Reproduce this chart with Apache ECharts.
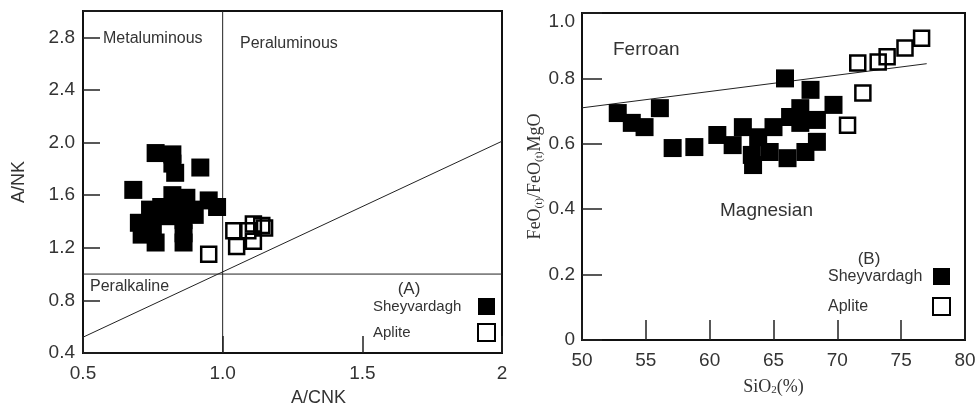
<!DOCTYPE html>
<html>
<head>
<meta charset="utf-8">
<script src="https://cdn.jsdelivr.net/npm/echarts@6/dist/echarts.min.js"></script>
<style>
  html, body { margin: 0; padding: 0; background: #fff; }
  #chart { width: 979px; height: 412px; }
</style>
</head>
<body>
<div id="chart"></div>
<script>
// (A) A/CNK vs A/NK
var sheyA = [
  [0.68, 1.64], [0.76, 1.92], [0.82, 1.91], [0.82, 1.84], [0.83, 1.77], [0.92, 1.81],
  [0.98, 1.51], [0.95, 1.56], [0.87, 1.58], [0.82, 1.60], [0.78, 1.51], [0.74, 1.49],
  [0.70, 1.39], [0.71, 1.30], [0.76, 1.24], [0.72, 1.35], [0.80, 1.44], [0.86, 1.41],
  [0.86, 1.31], [0.86, 1.24], [0.89, 1.49], [0.84, 1.51], [0.75, 1.36], [0.90, 1.45]
];
var apliteA = [
  [0.95, 1.15], [1.04, 1.33], [1.05, 1.21], [1.11, 1.25],
  [1.09, 1.33], [1.11, 1.38], [1.14, 1.37], [1.15, 1.35]
];
var boundVertA = [[1.0, 0.4], [1.0, 3.0]];
var boundHorizA = [[0.5, 1.0], [2.0, 1.0]];
var boundDiagA = [[0.5, 0.52], [2.0, 2.01]];

// (B) SiO2 vs FeO(t)/(FeO(t)+MgO)
var sheyB = [
  [52.8, 0.694], [53.9, 0.664], [54.9, 0.651], [56.1, 0.709], [57.1, 0.587], [58.8, 0.590],
  [60.6, 0.627], [61.8, 0.596], [62.6, 0.651], [63.3, 0.566], [63.4, 0.535], [63.8, 0.620],
  [64.7, 0.575], [65.0, 0.651], [65.9, 0.800], [66.1, 0.556], [66.3, 0.682], [67.1, 0.709],
  [67.1, 0.664], [67.5, 0.575], [67.9, 0.765], [68.4, 0.673], [68.4, 0.606], [69.7, 0.719]
];
var apliteB = [
  [70.8, 0.657], [72.0, 0.755], [71.6, 0.847], [73.2, 0.850],
  [73.9, 0.866], [75.3, 0.893], [76.6, 0.923]
];
var boundB = [[50, 0.71], [77, 0.845]];

var names = ['Sheyvardagh', 'Aplite'];

var sans = "'Liberation Sans', Arial, sans-serif";
var serif = "'Liberation Serif', 'Times New Roman', serif";
var ink = '#333';

var chart = echarts.init(document.getElementById('chart'));

function boundLine(data, xi, yi) {
  return {
    type: 'line', data: data, xAxisIndex: xi, yAxisIndex: yi,
    symbol: 'none', silent: true, z: 1,
    lineStyle: { color: '#222', width: 1 }
  };
}
function filled(name, data, xi, yi) {
  return {
    name: name, type: 'scatter', data: data, xAxisIndex: xi, yAxisIndex: yi,
    symbol: 'rect', symbolSize: 18, z: 3,
    itemStyle: { color: '#000', opacity: 1 }
  };
}
function open(name, data, xi, yi) {
  return {
    name: name, type: 'scatter', data: data, xAxisIndex: xi, yAxisIndex: yi,
    symbol: 'rect', symbolSize: 15, z: 3,
    itemStyle: { color: 'rgba(0,0,0,0)', borderColor: '#000', borderWidth: 2.5, opacity: 1 }
  };
}
function legendAt(left, top, gap, size) {
  return {
    left: left, top: top, orient: 'vertical', align: 'right', padding: 0,
    itemWidth: 17, itemHeight: 17, itemGap: gap, icon: 'rect', selectedMode: false,
    data: names,
    formatter: function (n) { return '{t|' + n + '}'; },
    textStyle: { rich: { t: { width: 100, align: 'left', fontSize: size, color: ink, fontFamily: sans } } }
  };
}

var tickLabel = { color: ink, fontSize: 19, fontFamily: sans };

chart.setOption({
  animation: false,
  backgroundColor: '#fff',
  grid: [
    { left: 83, top: 11, width: 419, height: 342, show: true, borderColor: '#111', borderWidth: 2 },
    { left: 582, top: 13, width: 383, height: 327, show: true, borderColor: '#111', borderWidth: 2 }
  ],
  xAxis: [
    {
      gridIndex: 0, type: 'value', min: 0.5, max: 2, interval: 0.5,
      name: 'A/CNK', nameLocation: 'middle', nameGap: 36,
      nameTextStyle: { color: ink, fontSize: 18, fontFamily: sans, padding: [0, 0, 0, 52] },
      axisLine: { show: false }, splitLine: { show: false },
      axisTick: { inside: true, length: 17, lineStyle: { color: '#222', width: 1.5 } },
      axisLabel: Object.assign({ margin: 11, formatter: function (v) { return v === 2 ? '2' : v.toFixed(1); } }, tickLabel)
    },
    {
      gridIndex: 1, type: 'value', min: 50, max: 80, interval: 5,
      name: 'SiO{s|2}(%)', nameLocation: 'middle', nameGap: 38,
      nameTextStyle: {
        color: ink, fontSize: 18, fontFamily: serif,
        rich: { s: { fontSize: 11, fontFamily: serif, color: ink, verticalAlign: 'bottom', lineHeight: 11, padding: [9, 0, 0, 0] } }
      },
      axisLine: { show: false }, splitLine: { show: false },
      axisTick: { inside: true, length: 20, lineStyle: { color: '#222', width: 1.5 } },
      axisLabel: Object.assign({ margin: 11 }, tickLabel)
    }
  ],
  yAxis: [
    {
      gridIndex: 0, type: 'value', min: 0.4, max: 3.0, interval: 0.4,
      name: 'A/NK', nameLocation: 'middle', nameGap: 55,
      nameTextStyle: { color: ink, fontSize: 18, fontFamily: sans },
      axisLine: { show: false }, splitLine: { show: false },
      axisTick: { inside: true, length: 17, lineStyle: { color: '#222', width: 1.5 } },
      axisLabel: Object.assign({ margin: 8, formatter: function (v) { return v > 2.9 ? '' : v.toFixed(1); } }, tickLabel)
    },
    {
      gridIndex: 1, type: 'value', min: 0, max: 1, interval: 0.2,
      name: '{m|FeO}{s|(t)}{m|/FeO}{s|(t)}{m|MgO}', nameLocation: 'middle', nameGap: 36,
      nameTextStyle: {
        color: ink, fontFamily: serif,
        rich: {
          m: { fontSize: 18, fontFamily: serif, color: ink, verticalAlign: 'top', lineHeight: 18 },
          s: { fontSize: 11, fontFamily: serif, color: ink, verticalAlign: 'bottom', lineHeight: 11, padding: [11, 0, 0, 0] }
        }
      },
      axisLine: { show: false }, splitLine: { show: false },
      axisTick: { inside: true, length: 20, lineStyle: { color: '#222', width: 1.5 } },
      axisLabel: Object.assign({
        margin: 7,
        formatter: function (v) {
          if (v === 0) return '0';
          if (v === 1) return '{top|1.0}';
          return v.toFixed(1);
        },
        rich: { top: { fontSize: 19, fontFamily: sans, color: ink, padding: [18, 0, 0, 0] } }
      }, tickLabel)
    }
  ],
  legend: [legendAt(373, 298, 8, 15), legendAt(828, 268, 12, 16)],
  graphic: [
    { type: 'text', style: { x: 103, y: 39, text: 'Metaluminous', font: '16px ' + sans, fill: ink, verticalAlign: 'middle' } },
    { type: 'text', style: { x: 240, y: 44, text: 'Peraluminous', font: '16px ' + sans, fill: ink, verticalAlign: 'middle' } },
    { type: 'text', style: { x: 90, y: 287, text: 'Peralkaline', font: '16px ' + sans, fill: ink, verticalAlign: 'middle' } },
    { type: 'text', style: { x: 409, y: 289, text: '(A)', font: '17px ' + sans, fill: ink, align: 'center', verticalAlign: 'middle' } },
    { type: 'text', style: { x: 613, y: 50, text: 'Ferroan', font: '19px ' + sans, fill: ink, verticalAlign: 'middle' } },
    { type: 'text', style: { x: 720, y: 211, text: 'Magnesian', font: '19px ' + sans, fill: ink, verticalAlign: 'middle' } },
    { type: 'text', style: { x: 869, y: 259, text: '(B)', font: '17px ' + sans, fill: ink, align: 'center', verticalAlign: 'middle' } }
  ],
  series: [
    boundLine(boundVertA, 0, 0),
    boundLine(boundHorizA, 0, 0),
    boundLine(boundDiagA, 0, 0),
    filled(names[0], sheyA, 0, 0),
    open(names[1], apliteA, 0, 0),
    boundLine(boundB, 1, 1),
    filled(names[0], sheyB, 1, 1),
    open(names[1], apliteB, 1, 1)
  ]
});
</script>
</body>
</html>
